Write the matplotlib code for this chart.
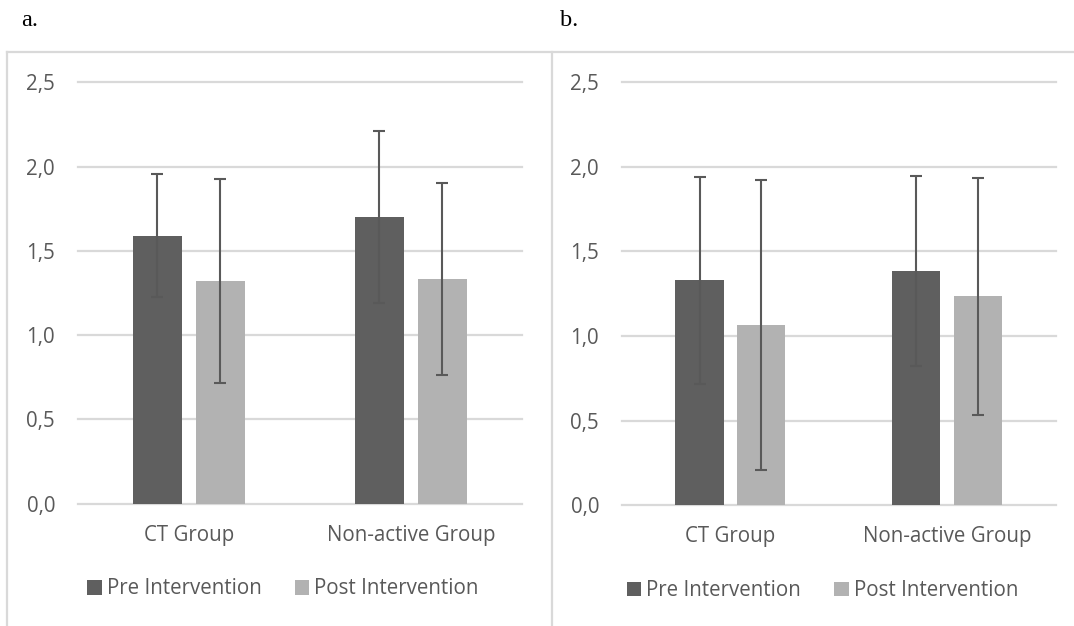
import matplotlib
matplotlib.use("Agg")
import matplotlib.pyplot as plt
from matplotlib.lines import Line2D
from matplotlib.patches import Patch
import numpy as np

# ---- data -------------------------------------------------------------
groups = ["CT Group", "Non-active Group"]
series_names = ["Pre Intervention", "Post Intervention"]
yticks = [0.0, 0.5, 1.0, 1.5, 2.0, 2.5]
ytick_labels = ["0,0", "0,5", "1,0", "1,5", "2,0", "2,5"]

# panel a
a_pre = [1.59, 1.70]
a_pre_err = [0.365, 0.51]
a_post = [1.32, 1.335]
a_post_err = [0.605, 0.57]

# panel b
b_pre = [1.33, 1.385]
b_pre_err = [0.61, 0.56]
b_post = [1.065, 1.235]
b_post_err = [0.855, 0.70]

# ---- style ------------------------------------------------------------
W, H = 1074, 626
DPI = 100
PRE_COLOR = "#5f5f5f"
POST_COLOR = "#b2b2b2"
ERR_COLOR = "#595959"
GRID_COLOR = "#d9d9d9"
TEXT_COLOR = "#595959"
FONT = ["Open Sans", "DejaVu Sans"]
FS = 14.8

plt.rcParams["font.family"] = FONT

fig = plt.figure(figsize=(W / DPI, H / DPI), dpi=DPI)


def px_axes(left, right, top, bottom):
    return fig.add_axes([left / W, 1 - bottom / H, (right - left) / W, (bottom - top) / H])


def draw_panel(ax, pre, pre_err, post, post_err):
    x = np.arange(len(groups))
    width = 0.222
    off = 0.142
    ekw = dict(ecolor=ERR_COLOR, elinewidth=1.5, capsize=4.4, capthick=1.5)
    ax.bar(x - off, pre, width, color=PRE_COLOR, yerr=pre_err, error_kw=ekw, zorder=2)
    ax.bar(x + off, post, width, color=POST_COLOR, yerr=post_err, error_kw=ekw, zorder=2)
    ax.set_xlim(-0.5, len(groups) - 0.5)
    ax.set_ylim(0, 2.5)
    ax.set_yticks(yticks)
    ax.set_yticklabels(ytick_labels)
    ax.set_xticks(x)
    ax.set_xticklabels(groups)
    for s in ax.spines.values():
        s.set_visible(False)
    ax.tick_params(axis="both", length=0, labelsize=FS, labelcolor=TEXT_COLOR)
    ax.tick_params(axis="y", pad=16.4)
    ax.tick_params(axis="x", pad=15)
    ax.yaxis.grid(True, color=GRID_COLOR, linewidth=1.6, zorder=0)
    ax.set_axisbelow(True)
    for gl in ax.get_ygridlines():
        gl.set_clip_on(False)


ax_a = px_axes(77.8, 521.8, 82.2, 503.8)
draw_panel(ax_a, a_pre, a_pre_err, a_post, a_post_err)
ax_b = px_axes(621.9, 1055.6, 82.2, 505.4)
draw_panel(ax_b, b_pre, b_pre_err, b_post, b_post_err)

# legends
handles = [Patch(facecolor=PRE_COLOR, edgecolor="none"),
           Patch(facecolor=POST_COLOR, edgecolor="none")]
for cx, cy in [(283, 589), (822.5, 590.5)]:
    fig.legend(handles, series_names, loc="center", bbox_to_anchor=(cx / W, 1 - cy / H),
               ncol=2, frameon=False, fontsize=FS, labelcolor=TEXT_COLOR,
               handlelength=0.7, handleheight=0.7, handletextpad=0.25,
               columnspacing=1.6, borderpad=0)

# chart frames
fx = lambda v: v / W
fy = lambda v: 1 - v / H
frame_kw = dict(color=GRID_COLOR, linewidth=1.6, transform=fig.transFigure)
fig.add_artist(Line2D([fx(7.3), fx(W)], [fy(52.3), fy(52.3)], **frame_kw))
fig.add_artist(Line2D([fx(7.3), fx(7.3)], [fy(52.3), fy(H)], **frame_kw))
fig.add_artist(Line2D([fx(551.7), fx(551.7)], [fy(52.3), fy(H)], **frame_kw))

# panel letters
letter_kw = dict(family=["Liberation Serif", "DejaVu Serif"], fontsize=17.5,
                 color="black", va="center", ha="left")
fig.text(fx(21), fy(20), "a.", **letter_kw)
fig.text(fx(560), fy(20), "b.", **letter_kw)

fig.savefig("out.png", dpi=DPI)
